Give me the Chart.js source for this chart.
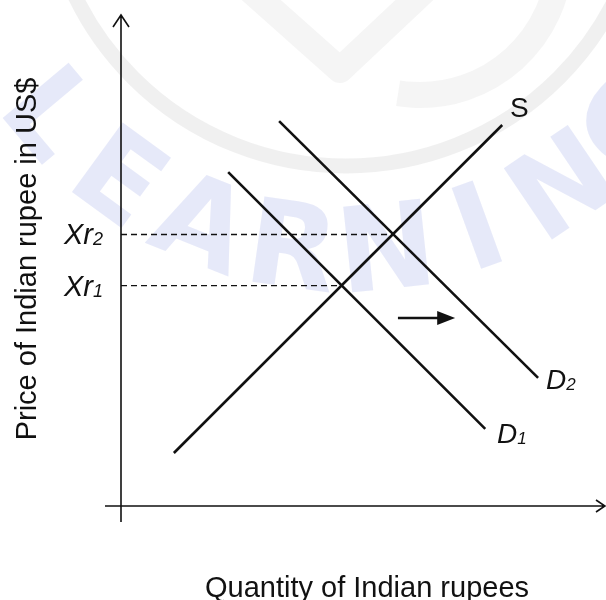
<!DOCTYPE html>
<html>
<head>
<meta charset="utf-8">
<script src="https://cdn.jsdelivr.net/npm/chart.js@4"></script>
<style>
  html, body { margin: 0; padding: 0; background: #fff; }
  #wrap { width: 606px; height: 600px; }
</style>
</head>
<body>
<div id="wrap"><canvas id="myChart" width="606" height="600"></canvas></div>
<script>
// curve end points (quantity, price) on a 0-100 scale
const supplyX = [10.9, 78.6];
const supplyY = [10.8, 77.6];
const demand1X = [22.1, 75.1];
const demand1Y = [68.0, 15.7];
const demand2X = [32.6, 86.0];
const demand2Y = [78.4, 26.1];

// equilibrium exchange rates and quantities
const rateLabels = ["Xr1", "Xr2"];
const rateValues = [44.9, 55.3];
const eqQuantity = [45.5, 56.0];

// rightward shift arrow
const shiftX = [57.1, 68.9];
const shiftY = 38.3;

const xTitle = "Quantity of Indian rupees";
const yTitle = "Price of Indian rupee in US$";

const ink = "#111";

const toPoints = (xs, ys) => xs.map((x, i) => ({ x: x, y: ys[i] }));

// faint logo watermark behind the diagram
const watermark = {
  id: "watermark",
  beforeDraw(chart) {
    const c = chart.ctx;
    c.save();
    c.strokeStyle = "rgba(236,236,236,0.8)";
    c.lineWidth = 15;
    c.beginPath();
    c.arc(346, -135, 301, 0, Math.PI);
    c.stroke();
    // rough V and D of the logo
    c.lineWidth = 26;
    c.strokeStyle = "rgba(242,242,242,0.8)";
    c.lineJoin = "round";
    c.beginPath();
    c.moveTo(250, -10);
    c.lineTo(340, 70);
    c.lineTo(425, -10);
    c.stroke();
    c.beginPath();
    c.arc(420, -45, 140, 0.05, Math.PI * 0.55);
    c.stroke();
    // LEARNING along an arc
    const word = "LEARNING";
    c.fillStyle = "rgba(226,229,248,0.85)";
    c.font = "bold 118px 'DejaVu Sans', sans-serif";
    c.textAlign = "center";
    c.textBaseline = "middle";
    const start = 140 * Math.PI / 180, end = 42 * Math.PI / 180;
    for (let i = 0; i < word.length; i++) {
      const a = start + (end - start) * i / (word.length - 1);
      const r = 395;
      c.save();
      c.translate(346 + r * Math.cos(a), -135 + r * Math.sin(a));
      c.rotate(a - Math.PI / 2);
      c.fillText(word[i], 0, 0);
      c.restore();
    }
    c.restore();
  }
};

// axes, arrows and labels
const annotate = {
  id: "annotate",
  afterDatasetsDraw(chart) {
    const c = chart.ctx;
    const xs = chart.scales.x, ys = chart.scales.y;
    const x0 = xs.getPixelForValue(0), y0 = ys.getPixelForValue(0);
    const yTop = ys.getPixelForValue(100), xEnd = xs.getPixelForValue(100);
    c.save();
    c.strokeStyle = ink;
    c.fillStyle = ink;
    c.lineWidth = 1.6;
    c.beginPath();
    c.moveTo(x0, y0 + 16); c.lineTo(x0, yTop);
    c.moveTo(x0 - 16, y0); c.lineTo(xEnd - 1, y0);
    // arrow heads
    c.moveTo(x0 - 8, yTop + 12); c.lineTo(x0, yTop); c.lineTo(x0 + 8, yTop + 12);
    c.moveTo(xEnd - 10, y0 - 6); c.lineTo(xEnd - 1, y0); c.lineTo(xEnd - 10, y0 + 6);
    c.stroke();

    // shift arrow
    const ax1 = xs.getPixelForValue(shiftX[0]), ax2 = xs.getPixelForValue(shiftX[1]);
    const ay = ys.getPixelForValue(shiftY);
    c.lineWidth = 2.5;
    c.beginPath();
    c.moveTo(ax1, ay); c.lineTo(ax2 - 14, ay);
    c.stroke();
    c.beginPath();
    c.moveTo(ax2, ay); c.lineTo(ax2 - 18, ay - 7); c.lineTo(ax2 - 18, ay + 7);
    c.closePath();
    c.fill();

    const font = "'Liberation Sans', Arial, sans-serif";
    const sub = (base, s, x, y, size, italic) => {
      c.font = (italic ? "italic " : "") + size + "px " + font;
      c.textAlign = "left";
      c.textBaseline = "alphabetic";
      c.fillText(base, x, y);
      const w = c.measureText(base).width;
      if (s) {
        c.font = (italic ? "italic " : "") + Math.round(size * 0.62) + "px " + font;
        c.fillText(s, x + w, y + 1);
      }
    };
    // curve labels
    sub("S", "", 510, 117, 28, false);
    sub("D", "2", 546, 389, 28, true);
    sub("D", "1", 497, 443, 28, true);
    // rate labels on y axis
    rateValues.forEach((v, i) => {
      const py = ys.getPixelForValue(v);
      sub(rateLabels[i].slice(0, 2), rateLabels[i].slice(2), 64, py + 10, 29, true);
    });

    // axis titles
    c.font = "29px " + font;
    c.textAlign = "center";
    c.textBaseline = "alphabetic";
    c.fillText(xTitle, 367, 597);
    c.save();
    c.translate(36, 259);
    c.rotate(-Math.PI / 2);
    c.fillText(yTitle, 0, 0);
    c.restore();
    c.restore();
  }
};

const lineStyle = { showLine: true, borderColor: ink, borderWidth: 2.6, pointRadius: 0, fill: false };

const dashed = rateValues.map((v, i) => ({
  data: [{ x: 0, y: v }, { x: eqQuantity[i], y: v }],
  showLine: true,
  borderColor: ink,
  borderWidth: 1.3,
  borderDash: [6, 4],
  pointRadius: 0,
  fill: false
}));

new Chart(document.getElementById("myChart"), {
  type: "scatter",
  data: {
    datasets: [
      Object.assign({ label: "S", data: toPoints(supplyX, supplyY) }, lineStyle),
      Object.assign({ label: "D1", data: toPoints(demand1X, demand1Y) }, lineStyle),
      Object.assign({ label: "D2", data: toPoints(demand2X, demand2Y) }, lineStyle),
      ...dashed
    ]
  },
  options: {
    responsive: false,
    animation: false,
    layout: { padding: { left: 121, right: 0, top: 15, bottom: 94 } },
    scales: {
      x: { type: "linear", min: 0, max: 100, display: false },
      y: { type: "linear", min: 0, max: 100, display: false }
    },
    plugins: {
      legend: { display: false },
      tooltip: { enabled: false }
    }
  },
  plugins: [watermark, annotate]
});
</script>
</body>
</html>
